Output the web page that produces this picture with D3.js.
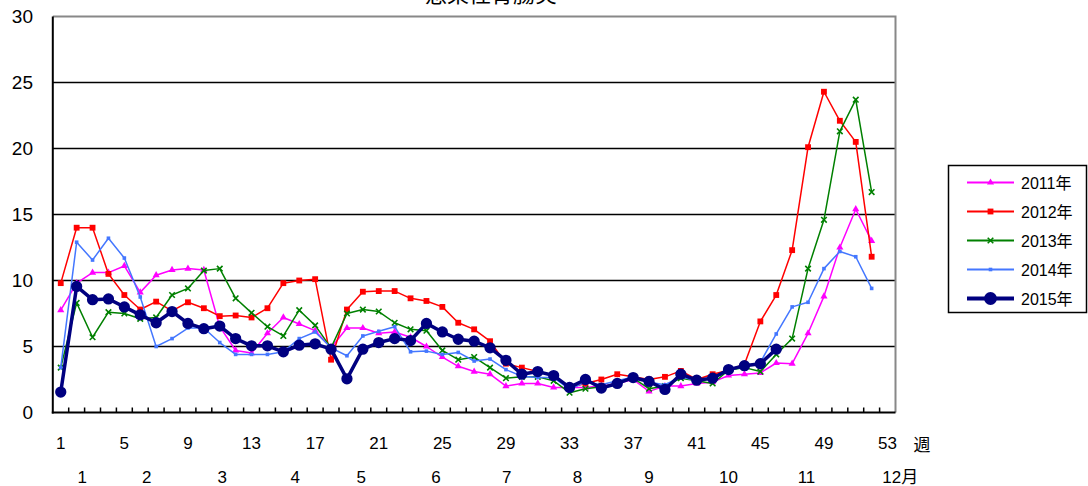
<!DOCTYPE html>
<html>
<head>
<meta charset="utf-8">
<script src="https://cdn.jsdelivr.net/npm/d3@7"></script>
<style>
  body { margin: 0; background: #fff; }
  text { font-family: "Liberation Sans", Arial, "Noto Sans CJK JP", sans-serif; fill: #000; }
</style>
</head>
<body>
<div class="chart"></div>
<script>
// weekly values (cases per sentinel)
const weeks = d3.range(1, 54);
const y2011 = [7.75, 9.8, 10.6, 10.6, 11.1, 9.1, 10.4, 10.8, 10.9, 10.8, 6.5, 4.7, 4.5, 6.0, 7.2, 6.7, 6.2, 4.9, 6.4, 6.4,
  6.0, 6.1, 5.7, 5.0, 4.2, 3.5, 3.1, 2.9, 2.0, 2.2, 2.2, 1.9, 1.9, 1.9, 2.0, 2.2, 2.5, 1.6, 2.0, 2.0,
  2.2, 2.3, 2.8, 2.9, 3.0, 3.75, 3.7, 6.0, 8.8, 12.5, 15.4, 13.0];
const y2012 = [9.8, 14.0, 14.0, 10.5, 8.9, 7.8, 8.4, 7.7, 8.35, 7.9, 7.3, 7.35, 7.2, 7.9, 9.8, 10.0, 10.1, 4.0, 7.8, 9.15,
  9.2, 9.2, 8.65, 8.45, 8.0, 6.8, 6.3, 5.4, 3.7, 3.4, 3.1, 2.8, 1.9, 2.2, 2.5, 2.9, 2.7, 2.5, 2.7, 3.15,
  2.5, 2.9, 3.2, 3.65, 6.9, 8.9, 12.3, 20.1, 24.3, 22.1, 20.5, 11.8];
const y2013 = [3.4, 8.3, 5.7, 7.6, 7.5, 7.1, 7.2, 8.9, 9.4, 10.75, 10.9, 8.65, 7.55, 6.5, 5.8, 7.75, 6.6, 4.9, 7.5, 7.8,
  7.65, 6.8, 6.3, 6.2, 4.7, 4.0, 4.2, 3.4, 2.6, 2.7, 2.7, 2.4, 1.5, 1.8, 1.95, 2.2, 2.6, 1.8, 2.0, 2.6,
  2.4, 2.2, 3.2, 3.4, 3.1, 4.4, 5.6, 10.9, 14.6, 21.3, 23.7, 16.7];
const y2014 = [3.4, 12.9, 11.55, 13.2, 11.7, 8.75, 5.0, 5.6, 6.4, 6.4, 5.3, 4.4, 4.4, 4.4, 4.6, 5.6, 6.1, 4.9, 4.3, 5.8,
  6.15, 6.5, 4.6, 4.65, 4.4, 4.55, 3.9, 4.05, 3.25, 2.75, 2.65, 2.65, 1.75, 2.3, 2.1, 2.4, 2.7, 2.3, 2.1, 2.7,
  2.4, 2.6, 3.2, 3.5, 3.8, 5.95, 8.0, 8.35, 10.9, 12.2, 11.8, 9.4];
const y2015 = [1.55, 9.55, 8.55, 8.6, 8.0, 7.4, 6.8, 7.65, 6.75, 6.35, 6.55, 5.6, 5.05, 5.05, 4.6, 5.1, 5.2, 4.8, 2.55, 4.8,
  5.3, 5.6, 5.45, 6.75, 6.1, 5.55, 5.4, 4.9, 3.95, 2.9, 3.1, 2.8, 1.9, 2.5, 1.85, 2.2, 2.65, 2.35, 1.75, 2.9,
  2.45, 2.6, 3.25, 3.55, 3.7, 4.8];

const seriesNames = ["2011年", "2012年", "2013年", "2014年", "2015年"];
const seriesValues = [y2011, y2012, y2013, y2014, y2015];

const yTicks = [0, 5, 10, 15, 20, 25, 30];
const weekTicks = [1, 5, 9, 13, 17, 21, 25, 29, 33, 37, 41, 45, 49, 53];
const monthLabels = ["1", "2", "3", "4", "5", "6", "7", "8", "9", "10", "11", "12月"];
// week position under which each month label sits
const monthAt = [2.35, 6.4, 11.15, 15.75, 19.9, 24.6, 29.05, 33.5, 38.0, 43.0, 47.9, 53.8];

const title = "感染性胃腸炎";

const styles = [
  { color: "#ff00ff", width: 1.5, symbol: d3.symbolTriangle, size: 22, stroke: false },
  { color: "#ff0000", width: 1.5, symbol: d3.symbolSquare, size: 34, stroke: false },
  { color: "#008000", width: 1.5, symbol: d3.symbolX, size: 22, stroke: true },
  { color: "#4477ff", width: 1.5, symbol: d3.symbolSquare, size: 13, stroke: false },
  { color: "#000080", width: 3.5, symbol: d3.symbolCircle, size: 100, stroke: false }
];

const W = 1088, H = 486;
const plotL = 52.8, plotR = 895.5, plotT = 16.5, plotB = 412.5;

const svg = d3.select(".chart").append("svg")
  .attr("width", W).attr("height", H);

const x = d3.scaleBand().domain(weeks).range([plotL, plotR]).paddingInner(0).paddingOuter(0);
const xc = (w) => x(w) + x.bandwidth() / 2;
const xw = d3.scaleLinear().domain([0.5, 53.5]).range([plotL, plotR]);
const y = d3.scaleLinear().domain([0, 30]).range([plotB, plotT]);

// title (mostly outside the picture)
svg.append("text")
  .attr("x", 491).attr("y", 2)
  .attr("text-anchor", "middle")
  .style("font-family", "'Noto Sans CJK JP', sans-serif")
  .style("font-size", "22px")
  .text(title);

// grid lines
svg.append("g").selectAll("line")
  .data(yTicks.filter((d) => d > 0 && d < 30))
  .enter().append("line")
  .attr("x1", plotL).attr("x2", plotR)
  .attr("y1", (d) => y(d)).attr("y2", (d) => y(d))
  .attr("stroke", "#000").attr("stroke-width", 1.5);

// frame top / right in grey
svg.append("path")
  .attr("d", `M${plotL},${y(30)}H${plotR}V${plotB}`)
  .attr("fill", "none").attr("stroke", "#888").attr("stroke-width", 2);

// axes
svg.append("line").attr("x1", plotL).attr("x2", plotL).attr("y1", y(30)).attr("y2", plotB + 1)
  .attr("stroke", "#000").attr("stroke-width", 2);
svg.append("line").attr("x1", plotL - 1).attr("x2", plotR).attr("y1", plotB).attr("y2", plotB)
  .attr("stroke", "#000").attr("stroke-width", 2);

// week boundary ticks pointing up into the plot
svg.append("g").selectAll("line")
  .data(weeks.slice(1))
  .enter().append("line")
  .attr("x1", (d) => x(d)).attr("x2", (d) => x(d))
  .attr("y1", plotB).attr("y2", plotB - 5)
  .attr("stroke", "#000").attr("stroke-width", 1.5);

// y labels
svg.append("g").selectAll("text")
  .data(yTicks)
  .enter().append("text")
  .attr("x", 33).attr("y", (d) => y(d))
  .attr("text-anchor", "end")
  .attr("dominant-baseline", "central")
  .style("font-size", "19px")
  .text((d) => d);

// week labels
svg.append("g").selectAll("text")
  .data(weekTicks)
  .enter().append("text")
  .attr("x", (d) => xc(d)).attr("y", 443)
  .attr("text-anchor", "middle")
  .attr("dominant-baseline", "central")
  .style("font-size", "17px")
  .text((d) => d);

svg.append("text")
  .attr("x", 922).attr("y", 443)
  .attr("text-anchor", "middle")
  .attr("dominant-baseline", "central")
  .style("font-family", "'Noto Sans CJK JP', sans-serif")
  .style("font-size", "17px")
  .text("週");

// month labels
svg.append("g").selectAll("text")
  .data(monthLabels)
  .enter().append("text")
  .attr("x", (d, i) => xw(monthAt[i]))
  .attr("y", 477)
  .attr("text-anchor", "middle")
  .attr("dominant-baseline", "central")
  .style("font-family", "'Liberation Sans', 'Noto Sans CJK JP', sans-serif")
  .style("font-size", "17px")
  .text((d) => d);

// series
const line = d3.line().x((d, i) => xc(weeks[i])).y((d) => y(d));

seriesValues.forEach((vals, s) => {
  const st = styles[s];
  const g = svg.append("g");
  g.append("path")
    .datum(vals)
    .attr("d", line)
    .attr("fill", "none")
    .attr("stroke", st.color)
    .attr("stroke-width", st.width)
    .attr("stroke-linejoin", "round");
  const sym = d3.symbol().type(st.symbol).size(st.size);
  g.selectAll("path.pt")
    .data(vals)
    .enter().append("path")
    .attr("class", "pt")
    .attr("d", sym)
    .attr("transform", (d, i) => `translate(${xc(weeks[i])},${y(d)})`)
    .attr("fill", st.stroke ? "none" : st.color)
    .attr("stroke", st.stroke ? st.color : "none")
    .attr("stroke-width", 1.6);
});

// legend
const legend = svg.append("g");
legend.append("rect")
  .attr("x", 948.5).attr("y", 165.5).attr("width", 138).attr("height", 147)
  .attr("fill", "#fff").attr("stroke", "#000").attr("stroke-width", 1.5);

const legY = d3.scaleLinear().domain([0, 4]).range([182.5, 298.5]);
seriesNames.forEach((name, s) => {
  const st = styles[s];
  const yy = legY(s);
  legend.append("line")
    .attr("x1", 967).attr("x2", 1014).attr("y1", yy).attr("y2", yy)
    .attr("stroke", st.color).attr("stroke-width", s === 4 ? 4 : 2);
  legend.append("path")
    .attr("d", d3.symbol().type(st.symbol).size(s === 4 ? 130 : st.size)())
    .attr("transform", `translate(990.5,${yy})`)
    .attr("fill", st.stroke ? "none" : st.color)
    .attr("stroke", st.stroke ? st.color : "none")
    .attr("stroke-width", 1.6);
  legend.append("text")
    .attr("x", 1021).attr("y", yy + 1)
    .attr("dominant-baseline", "central")
    .style("font-family", "'Liberation Sans', 'Noto Sans CJK JP', sans-serif")
    .style("font-size", "16px")
    .text(name);
});
</script>
</body>
</html>
